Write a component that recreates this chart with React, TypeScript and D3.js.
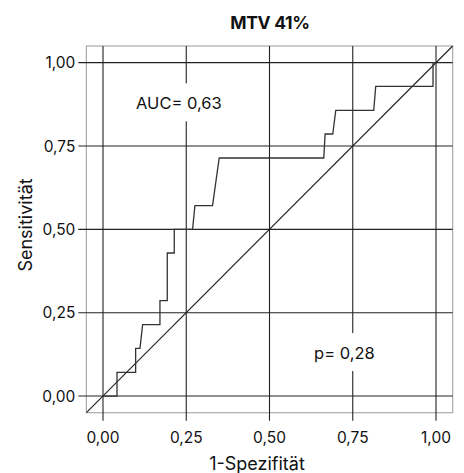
import { useEffect, useRef } from 'react';
import * as d3 from 'd3';

// ROC curve points (1 - specificity, sensitivity)
const fpr = [0, 0.042, 0.042, 0.098, 0.098, 0.111, 0.119, 0.171, 0.171, 0.193, 0.193, 0.214, 0.214, 0.269, 0.276, 0.329, 0.339, 0.349, 0.663, 0.667, 0.69, 0.699, 0.813, 0.819, 0.991, 0.991, 1];
const tpr = [0, 0, 0.071, 0.071, 0.143, 0.143, 0.214, 0.214, 0.286, 0.286, 0.429, 0.429, 0.5, 0.5, 0.571, 0.571, 0.643, 0.714, 0.714, 0.786, 0.786, 0.857, 0.857, 0.929, 0.929, 1, 1];

const ticks = [0, 0.25, 0.5, 0.75, 1];
const title = 'MTV 41%';
const xTitle = '1-Spezifität';
const yTitle = 'Sensitivität';
const notes = [
  { text: 'AUC= 0,63', x: 0.228, y: 0.86 },
  { text: 'p= 0,28', x: 0.725, y: 0.111 },
];

const fmt = (v: number) => v.toFixed(2).replace('.', ',');

const App = () => {
  const ref = useRef<SVGSVGElement>(null);

  useEffect(() => {
    const svg = d3.select(ref.current);
    svg.selectAll('*').remove();

    const x = d3.scaleLinear().domain([-0.05, 1.05]).range([86.35, 452.65]);
    const y = d3.scaleLinear().domain([-0.05, 1.05]).range([412.7, 46]);
    const font = 'Inter, sans-serif';
    const ink = '#222';

    // frame
    svg
      .append('rect')
      .attr('x', x(-0.05))
      .attr('y', y(1.05))
      .attr('width', x(1.05) - x(-0.05))
      .attr('height', y(-0.05) - y(1.05))
      .attr('fill', 'none')
      .attr('stroke', '#aaa')
      .attr('stroke-width', 1.2);

    // grid lines, running on as ticks past the frame
    const grid = svg.append('g').attr('stroke', ink).attr('stroke-width', 1.1);
    grid
      .selectAll('line.h')
      .data(ticks)
      .join('line')
      .attr('class', 'h')
      .attr('x1', x(-0.05) - 8)
      .attr('x2', x(1.05))
      .attr('y1', (d) => y(d))
      .attr('y2', (d) => y(d));
    grid
      .selectAll('line.v')
      .data(ticks)
      .join('line')
      .attr('class', 'v')
      .attr('x1', (d) => x(d))
      .attr('x2', (d) => x(d))
      .attr('y1', y(1.05))
      .attr('y2', y(-0.05) + 8);

    // reference diagonal
    svg
      .append('line')
      .attr('x1', x(-0.05))
      .attr('y1', y(-0.05))
      .attr('x2', x(1.05))
      .attr('y2', y(1.05))
      .attr('stroke', ink)
      .attr('stroke-width', 1.1);

    // ROC curve
    const line = d3
      .line<number>()
      .x((d) => x(d))
      .y((_, i) => y(tpr[i]));
    svg
      .append('path')
      .attr('d', line(fpr))
      .attr('fill', 'none')
      .attr('stroke', '#333')
      .attr('stroke-width', 1.3);

    // annotations with white boxes
    notes.forEach((n) => {
      const g = svg.append('g');
      const t = g
        .append('text')
        .attr('x', x(n.x))
        .attr('y', y(n.y))
        .attr('text-anchor', 'middle')
        .attr('font-family', font)
        .attr('font-size', 16.5)
        .attr('fill', '#111')
        .text(n.text);
      const bb = (t.node() as SVGTextElement).getBBox();
      g.insert('rect', 'text')
        .attr('x', bb.x - 8)
        .attr('y', bb.y - 10)
        .attr('width', bb.width + 16)
        .attr('height', bb.height + 18)
        .attr('fill', '#fff');
    });

    // tick labels
    svg
      .append('g')
      .selectAll('text')
      .data(ticks)
      .join('text')
      .attr('x', x(-0.05) - 11)
      .attr('y', (d) => y(d) + 5.5)
      .attr('text-anchor', 'end')
      .attr('font-family', font)
      .attr('font-size', 15.5)
      .attr('fill', '#111')
      .text(fmt);
    svg
      .append('g')
      .selectAll('text')
      .data(ticks)
      .join('text')
      .attr('x', (d) => x(d))
      .attr('y', 442.7)
      .attr('text-anchor', 'middle')
      .attr('font-family', font)
      .attr('font-size', 15.5)
      .attr('fill', '#111')
      .text(fmt);

    // titles
    svg
      .append('text')
      .attr('x', 270)
      .attr('y', 29)
      .attr('text-anchor', 'middle')
      .attr('font-family', font)
      .attr('font-weight', 'bold')
      .attr('font-size', 17.5)
      .attr('letter-spacing', -0.3)
      .attr('fill', '#111')
      .text(title);
    svg
      .append('text')
      .attr('x', 257)
      .attr('y', 470)
      .attr('text-anchor', 'middle')
      .attr('font-family', font)
      .attr('font-size', 18)
      .attr('fill', '#111')
      .text(xTitle);
    svg
      .append('text')
      .attr('transform', 'translate(32,225) rotate(-90)')
      .attr('text-anchor', 'middle')
      .attr('font-family', font)
      .attr('font-size', 18)
      .attr('fill', '#111')
      .text(yTitle);
  }, []);

  return (
    <svg
      ref={ref}
      width={464}
      height={473}
      style={{ position: 'absolute', left: 0, top: 0, background: '#fff' }}
    />
  );
};

export default App;
